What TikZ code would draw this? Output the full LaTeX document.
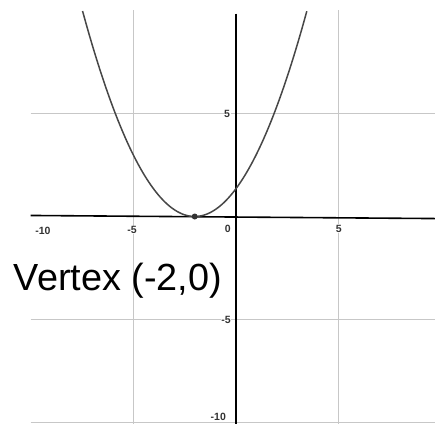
\documentclass[tikz,border=0pt]{standalone}
\usepackage{fontspec}
\setmainfont{Liberation Sans}
\usepackage{graphicx}
\tikzset{
  grid line/.style={draw=black!22, line width=0.9pt},
  axis line/.style={draw=black, line width=1.6pt},
  curve line/.style={draw=black!72, line width=1.5pt},
  tick label/.style={font=\bfseries\fontsize{10.5}{12}\selectfont, text=black!80, fill=white, inner sep=0.6pt},
  hand label/.style={font=\fontsize{26}{28}\selectfont, text=black, inner sep=0pt}
}
\begin{document}
\begin{tikzpicture}
\useasboundingbox (0,0) rectangle (435pt,423pt);
\fill[white] (0,0) rectangle (435pt,423pt);
\begin{scope}[shift={(235.7pt,206.5pt)}, x=20.5pt, y=20.6pt]
  % grid
  \foreach \gx in {-5,5} \draw[grid line] (\gx,10) -- (\gx,-10.3);
  \foreach \gy in {5,-5,-10} \draw[grid line] (-10,\gy) -- (9.75,\gy);
  % axes
  \coordinate (xl) at (-10,0.05);
  \coordinate (xr) at (9.75,-0.1);
  \coordinate (yt) at (0,9.85);
  \coordinate (yb) at (0,-10.3);
  \draw[axis line] (xl) -- (xr);
  \draw[axis line] (yt) -- (yb);
  % labels
  \node[tick label] (lxm10) at (-9.4,-0.7) {-10};
  \node[tick label] (lxm5) at (-5.06,-0.65) {-5};
  \node[tick label] (lx0) at (-0.38,-0.62) {0};
  \node[tick label] (lx5) at (5.03,-0.58) {5};
  \node[tick label] (ly5) at (-0.42,5) {5};
  \node[tick label] (lym5) at (-0.47,-5) {-5};
  \node[tick label] (lym10) at (-0.85,-9.73) {-10};
  % parabola
  \draw[curve line, domain=-7.47:3.47, samples=120, smooth] plot (\x,{(\x+2)*(\x+2)/3});
  \fill[black!80] (-2,0) circle (3pt) coordinate (vertex);
\end{scope}
\node[hand label] (vlabel) at (118pt,142pt) {\resizebox{208pt}{!}{Vertex (-2,0)}};
\end{tikzpicture}
\end{document}
